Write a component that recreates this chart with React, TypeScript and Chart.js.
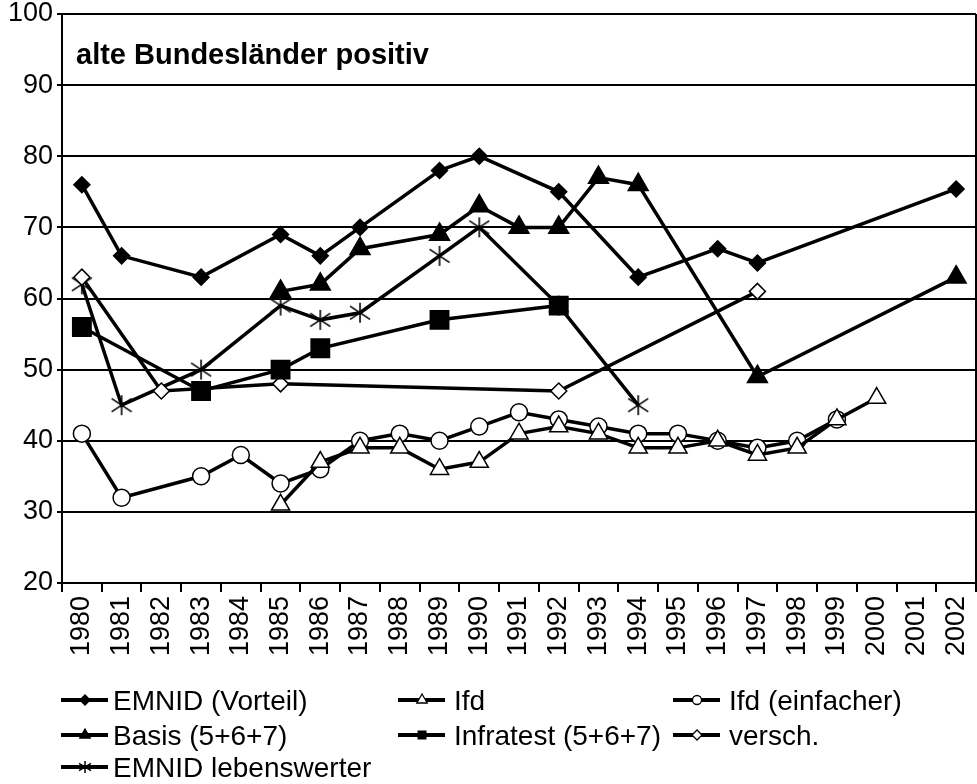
import { useEffect, useRef } from 'react';
import { Chart, registerables } from 'chart.js';

Chart.register(...registerables);

const FONT = '"Liberation Sans", Arial, Helvetica, sans-serif';

const chartTitle = 'alte Bundesländer positiv';

const years = [
  '1980', '1981', '1982', '1983', '1984', '1985', '1986', '1987', '1988', '1989', '1990', '1991',
  '1992', '1993', '1994', '1995', '1996', '1997', '1998', '1999', '2000', '2001', '2002',
];

const yMin = 20;
const yMax = 100;
const yStep = 10;

const seriesNames = [
  'EMNID (Vorteil)',
  'Ifd',
  'Ifd (einfacher)',
  'Basis (5+6+7)',
  'Infratest (5+6+7)',
  'versch.',
  'EMNID lebenswerter',
];

const emnidVorteil = [76, 66, null, 63, null, 69, 66, 70, null, 78, 80, null, 75, null, 63, null, 67, 65, null, null, null, null, 75.4];
const ifd = [null, null, null, null, null, 31, 37, 39, 39, 36, 37, 41, 42, 41, 39, 39, 40, 38, 39, 43, 46, null, null];
const ifdEinfacher = [41, 32, null, 35, 38, 34, 36, 40, 41, 40, 42, 44, 43, 42, 41, 41, 40, 39, 40, 43, null, null, null];
const basis = [null, null, null, null, null, 61, 62, 67, null, 69, 73, 70, 70, 77, 76, null, null, 49, null, null, null, null, 63];
const infratest = [56, null, null, 47, null, 50, 53, null, null, 57, null, null, 59, null, null, null, null, null, null, null, null, null, null];
const versch = [63, null, 47, null, null, 48, null, null, null, null, null, null, 47, null, null, null, null, 61, null, null, null, null, null];
const emnidLeben = [62, 45, null, 50, null, 59, 57, 58, null, 66, 70, null, 59, null, 45, null, null, null, null, null, null, null, null];

function makeAsterisk(size: number, lw: number): HTMLCanvasElement {
  const c = document.createElement('canvas');
  c.width = size;
  c.height = size;
  const g = c.getContext('2d')!;
  g.strokeStyle = '#000';
  g.lineWidth = lw;
  const m = size / 2;
  const p = 1;
  g.beginPath();
  g.moveTo(m, p);
  g.lineTo(m, size - p);
  g.moveTo(p, size * 0.2);
  g.lineTo(size - p, size * 0.8);
  g.moveTo(p, size * 0.8);
  g.lineTo(size - p, size * 0.2);
  g.stroke();
  return c;
}

type MarkerKind = 'diamond' | 'triangle' | 'circle' | 'square' | 'star';

function drawMarker(ctx: CanvasRenderingContext2D, kind: MarkerKind, filled: boolean, x: number, y: number, r: number) {
  ctx.save();
  ctx.fillStyle = filled ? '#000' : '#fff';
  ctx.strokeStyle = '#000';
  ctx.lineWidth = 1.3;
  ctx.beginPath();
  if (kind === 'diamond') {
    ctx.moveTo(x - r, y);
    ctx.lineTo(x, y - r);
    ctx.lineTo(x + r, y);
    ctx.lineTo(x, y + r);
    ctx.closePath();
    ctx.fill();
    ctx.stroke();
  } else if (kind === 'triangle') {
    ctx.moveTo(x, y - r);
    ctx.lineTo(x + r * 0.866, y + r * 0.5);
    ctx.lineTo(x - r * 0.866, y + r * 0.5);
    ctx.closePath();
    ctx.fill();
    ctx.stroke();
  } else if (kind === 'circle') {
    ctx.arc(x, y, r, 0, Math.PI * 2);
    ctx.fill();
    ctx.stroke();
  } else if (kind === 'square') {
    ctx.rect(x - r, y - r, 2 * r, 2 * r);
    ctx.fill();
  } else {
    ctx.lineWidth = 1.5;
    ctx.moveTo(x, y - r);
    ctx.lineTo(x, y + r);
    ctx.moveTo(x - r, y - r * 0.6);
    ctx.lineTo(x + r, y + r * 0.6);
    ctx.moveTo(x - r, y + r * 0.6);
    ctx.lineTo(x + r, y - r * 0.6);
    ctx.stroke();
  }
  ctx.restore();
}

const legendMarkers: { kind: MarkerKind; filled: boolean; r: number }[] = [
  { kind: 'diamond', filled: true, r: 5 },
  { kind: 'triangle', filled: false, r: 6 },
  { kind: 'circle', filled: false, r: 4.5 },
  { kind: 'triangle', filled: true, r: 6 },
  { kind: 'square', filled: true, r: 4.5 },
  { kind: 'diamond', filled: false, r: 5 },
  { kind: 'star', filled: true, r: 6 },
];

const legendCols = [61, 398, 673];
const legendTextX = [113, 454, 729];
const legendRows = [700, 735, 767];

export default function App() {
  const ref = useRef<HTMLCanvasElement>(null);

  useEffect(() => {
    document.body.style.margin = '0';
    const canvas = ref.current;
    if (!canvas) return;
    const star = makeAsterisk(22, 1.6);

    const decor = {
      id: 'decor',
      afterDraw(chart: any) {
        const ctx: CanvasRenderingContext2D = chart.ctx;
        const a = chart.chartArea;
        ctx.save();
        ctx.strokeStyle = '#000';
        ctx.lineWidth = 2;
        ctx.beginPath();
        ctx.moveTo(a.right, a.top);
        ctx.lineTo(a.right, a.bottom);
        ctx.stroke();

        ctx.fillStyle = '#000';
        ctx.textAlign = 'left';
        ctx.textBaseline = 'alphabetic';
        ctx.font = `bold 29px ${FONT}`;
        ctx.fillText(chartTitle, a.left + 14, a.top + 50);

        ctx.font = `28px ${FONT}`;
        chart.data.datasets.forEach((ds: any, i: number) => {
          const col = i % 3;
          const row = Math.floor(i / 3);
          const x0 = legendCols[col];
          const y = legendRows[row];
          ctx.strokeStyle = '#000';
          ctx.lineWidth = 4;
          ctx.beginPath();
          ctx.moveTo(x0, y);
          ctx.lineTo(x0 + 47, y);
          ctx.stroke();
          const m = legendMarkers[i];
          drawMarker(ctx, m.kind, m.filled, x0 + 24, y, m.r);
          ctx.fillStyle = '#000';
          ctx.fillText(ds.label, legendTextX[col], y + 10);
        });
        ctx.restore();
      },
    };

    const base = {
      borderColor: '#000',
      borderWidth: 3.5,
      pointBorderColor: '#000',
      pointBorderWidth: 1.5,
      spanGaps: true,
      tension: 0,
      fill: false,
    };

    const chart = new Chart(canvas, {
      type: 'line',
      data: {
        labels: years,
        datasets: [
          { ...base, label: seriesNames[0], data: emnidVorteil, pointStyle: 'rectRot', pointRadius: 8, pointBackgroundColor: '#000' },
          { ...base, label: seriesNames[1], data: ifd, pointStyle: 'triangle', pointRadius: 10.5, pointBackgroundColor: '#fff' },
          { ...base, label: seriesNames[2], data: ifdEinfacher, pointStyle: 'circle', pointRadius: 8.5, pointBackgroundColor: '#fff' },
          { ...base, label: seriesNames[3], data: basis, pointStyle: 'triangle', pointRadius: 11.5, pointBackgroundColor: '#000' },
          { ...base, label: seriesNames[4], data: infratest, pointStyle: 'rect', pointRadius: 13, pointBackgroundColor: '#000' },
          { ...base, label: seriesNames[5], data: versch, pointStyle: 'rectRot', pointRadius: 8, pointBackgroundColor: '#fff' },
          { ...base, label: seriesNames[6], data: emnidLeben, pointStyle: star as any, pointRadius: 11, pointBackgroundColor: '#000' },
        ] as any,
      },
      options: {
        responsive: false,
        devicePixelRatio: 1,
        animation: false,
        layout: { autoPadding: false, padding: { top: 14, right: 1, left: 0, bottom: 0 } },
        plugins: {
          legend: { display: false },
          tooltip: { enabled: false },
          title: { display: false },
        },
        scales: {
          x: {
            type: 'category',
            offset: true,
            grid: {
              display: true,
              offset: true,
              drawOnChartArea: false,
              drawTicks: true,
              tickLength: 9,
              color: '#000',
              lineWidth: 2,
            },
            border: { display: true, color: '#000', width: 2 },
            ticks: {
              color: '#000',
              font: { family: FONT, size: 27 },
              minRotation: 90,
              maxRotation: 90,
              autoSkip: false,
              padding: 4,
            },
            afterFit(scale: any) {
              scale.height = 201;
              scale.paddingLeft = 0;
              scale.paddingRight = 0;
            },
          },
          y: {
            min: yMin,
            max: yMax,
            grid: {
              color: '#000',
              lineWidth: 2,
              tickLength: 5,
              drawTicks: true,
            },
            border: { display: true, color: '#000', width: 2 },
            ticks: {
              stepSize: yStep,
              color: '#000',
              font: { family: FONT, size: 27 },
              padding: 4,
            },
            afterFit(scale: any) {
              scale.width = 62;
              scale.paddingTop = 0;
              scale.paddingBottom = 0;
            },
          },
        },
      },
      plugins: [decor],
    });

    return () => chart.destroy();
  }, []);

  return (
    <canvas
      ref={ref}
      width={977}
      height={784}
      style={{ display: 'block', width: 977, height: 784 }}
    />
  );
}
